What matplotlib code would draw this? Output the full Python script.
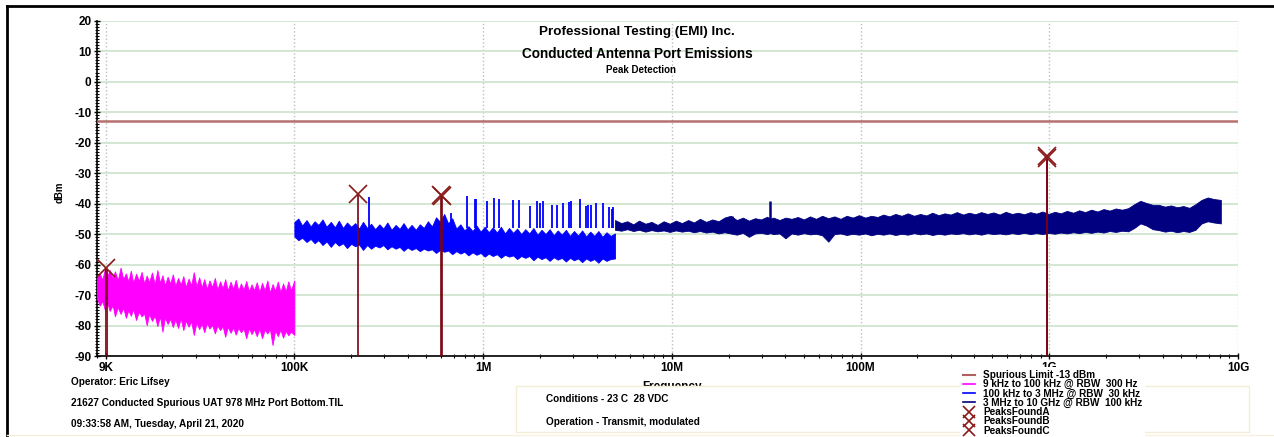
import matplotlib
matplotlib.use('Agg')
import matplotlib.pyplot as plt
from matplotlib.lines import Line2D
from matplotlib.patches import Rectangle
from matplotlib.ticker import FixedLocator, FixedFormatter, LogLocator, MultipleLocator, NullFormatter

plt.rcParams['font.family'] = ['Liberation Sans', 'DejaVu Sans']
plt.rcParams['font.weight'] = 'bold'
plt.rcParams['axes.unicode_minus'] = False

# --- data ----------------------------------------------------------------
limit_db = -13.0

# 9 kHz - 100 kHz sweep (kHz, upper / lower edge of the trace in dBm)
f_mag = [9.0, 9.3, 9.6, 9.9, 10.2, 10.5, 10.9, 11.2, 11.6, 12.0,
         12.4, 12.8, 13.2, 13.6, 14.0, 14.5, 15.0, 15.5, 16.0, 16.5,
         17.0, 17.6, 18.2, 18.8, 19.4, 20.0, 20.6, 21.3, 22.0, 22.7,
         23.4, 24.2, 25.0, 25.8, 26.6, 27.5, 28.4, 29.3, 30.3, 31.3,
         32.3, 33.3, 34.4, 35.5, 36.7, 37.9, 39.1, 40.4, 41.7, 43.0,
         44.4, 45.9, 47.4, 48.9, 50.5, 52.1, 53.8, 55.6, 57.4, 59.3,
         61.2, 63.2, 65.3, 67.4, 69.6, 71.9, 74.2, 76.6, 79.1, 81.7,
         84.4, 87.1, 90.0, 92.9, 95.9, 100.0]
hi_mag = [-64.5, -62.8, -65.0, -61.5, -63.8, -61.8, -64.6, -62.2, -65.2, -61.0,
          -64.8, -62.9, -65.5, -62.0, -66.0, -63.0, -65.4, -62.4, -66.2, -63.6,
          -65.8, -62.6, -66.5, -61.8, -66.0, -63.5, -66.8, -64.0, -66.2, -63.2,
          -67.0, -64.4, -66.6, -63.8, -67.4, -64.6, -66.8, -62.5, -67.2, -64.2,
          -67.5, -64.8, -68.0, -65.2, -67.4, -64.4, -68.2, -65.5, -67.8, -64.8,
          -68.5, -65.6, -68.0, -65.0, -68.6, -66.2, -68.2, -65.4, -68.8, -66.5,
          -68.4, -65.8, -69.0, -66.0, -68.5, -65.2, -69.2, -66.4, -68.6, -65.6,
          -69.0, -66.2, -68.8, -65.5, -68.4, -65.2]
lo_mag = [-71.0, -73.5, -72.0, -74.8, -72.5, -75.2, -73.4, -77.0, -74.0, -76.2,
          -74.2, -77.5, -75.0, -76.8, -74.6, -78.2, -75.4, -77.0, -76.0, -79.9,
          -76.2, -78.5, -76.8, -80.2, -77.0, -82.0, -77.4, -79.5, -77.8, -80.5,
          -78.0, -80.8, -77.6, -81.5, -78.4, -80.4, -78.6, -83.1, -79.0, -81.2,
          -79.4, -82.2, -79.2, -81.0, -79.8, -82.6, -80.0, -81.5, -80.2, -83.7,
          -80.4, -82.4, -80.6, -83.0, -80.8, -82.2, -81.0, -84.2, -80.8, -82.8,
          -81.2, -83.5, -81.0, -84.2, -81.4, -82.6, -81.2, -86.4, -81.6, -83.5,
          -81.4, -84.0, -81.8, -83.2, -82.0, -83.1]

# 100 kHz - 5 MHz sweep (kHz)
f_blue = [100, 105, 110, 116, 122, 128, 134, 141, 148, 156,
          164, 172, 181, 190, 200, 210, 220, 231, 243, 255,
          268, 282, 296, 311, 327, 344, 361, 379, 398, 418,
          440, 462, 485, 510, 536, 563, 592, 622, 653, 686,
          721, 758, 796, 836, 879, 923, 970, 1020, 1071, 1126,
          1183, 1243, 1306, 1372, 1442, 1515, 1592, 1673, 1758, 1847,
          1941, 2040, 2143, 2252, 2367, 2487, 2613, 2746, 2885, 3032,
          3186, 3348, 3518, 3697, 3884, 4082, 4289, 4507, 4736, 5000]
hi_blue = [-46.0, -44.9, -47.2, -45.4, -47.5, -45.8, -47.0, -45.2, -47.6, -46.0,
           -47.8, -45.6, -48.0, -46.2, -47.6, -46.4, -48.2, -46.0, -48.0, -46.6,
           -48.4, -46.8, -48.2, -46.2, -48.6, -47.0, -48.3, -46.4, -48.5, -47.0,
           -48.6, -46.8, -48.0, -45.8, -47.5, -44.5, -46.0, -43.4, -46.5, -44.8,
           -48.2, -46.8, -48.8, -47.4, -49.0, -47.2, -49.2, -47.6, -49.4, -47.8,
           -49.5, -47.6, -49.8, -48.0, -49.6, -48.2, -50.0, -48.4, -49.8, -48.0,
           -50.2, -48.6, -50.0, -48.4, -50.4, -48.8, -50.2, -48.6, -50.6, -49.0,
           -50.5, -48.8, -50.8, -49.2, -50.6, -49.0, -50.9, -49.4, -50.6, -49.8]
lo_blue = [-50.8, -52.0, -51.2, -52.6, -51.6, -53.0, -52.0, -53.6, -52.4, -54.2,
           -52.6, -53.8, -53.0, -54.6, -53.2, -54.0, -53.4, -55.2, -53.6, -54.8,
           -53.8, -54.4, -53.6, -55.0, -54.0, -54.8, -54.2, -55.5, -54.4, -55.2,
           -54.6, -55.6, -54.8, -55.4, -55.0, -56.2, -55.2, -55.8, -55.4, -56.6,
           -55.6, -56.4, -55.8, -57.0, -56.0, -56.8, -56.2, -57.4, -56.4, -57.2,
           -56.6, -57.8, -56.8, -57.4, -57.0, -58.2, -57.2, -57.8, -57.2, -58.6,
           -57.4, -58.2, -57.6, -58.8, -57.6, -58.4, -57.8, -59.0, -57.8, -58.6,
           -58.0, -59.2, -58.0, -58.8, -58.2, -59.4, -58.0, -58.8, -58.2, -58.0]
# narrow spurs above the 100 kHz - 5 MHz trace (kHz, dBm)
spur_blue_f = [248, 674, 822, 906, 917, 1046, 1140, 1215, 1447, 1545,
               1780, 1925, 2000, 2086, 2310, 2470, 2640, 2855, 2914, 3270,
               3500, 3600, 3720, 3950, 4340, 4650, 4810, 4900]
spur_blue_db = [-38.0, -43.0, -37.6, -38.6, -38.4, -39.0, -38.2, -38.6, -38.9, -38.9,
                -40.8, -39.1, -39.8, -39.1, -40.4, -40.4, -39.9, -39.5, -39.3, -38.6,
                -40.8, -40.5, -40.3, -39.9, -39.7, -41.0, -41.8, -41.2]

# 5 MHz - 8.1 GHz sweep (MHz)
f_navy = [5.0, 5.4, 5.8, 6.25, 6.7, 7.25, 7.8, 8.4, 9.05, 9.75,
          10.5, 11.3, 12.2, 13.1, 14.1, 15.2, 16.4, 17.7, 19.0, 20.5,
          22.1, 23.8, 25.6, 27.6, 29.7, 32.0, 33.2, 34.5, 37.2, 40.0,
          43.1, 46.5, 50.1, 54.0, 58.1, 62.6, 67.5, 72.7, 78.3, 84.4,
          91.0, 98.0, 106, 114, 123, 132, 142, 153, 165, 178,
          192, 207, 223, 240, 259, 279, 300, 324, 349, 376,
          405, 436, 470, 506, 546, 588, 634, 683, 736, 793,
          854, 920, 992, 1070, 1150, 1240, 1340, 1440, 1550, 1670,
          1800, 1940, 2090, 2250, 2430, 2620, 2820, 3040, 3270, 3530,
          3800, 4100, 4410, 4760, 5130, 5520, 5950, 6410, 6910, 7450, 8110]
hi_navy = [-45.4, -46.4, -45.8, -46.8, -45.6, -46.6, -46.0, -47.0, -45.8, -46.6,
           -45.6, -46.4, -45.4, -46.2, -45.0, -46.0, -45.2, -45.8, -44.6, -44.0,
           -45.4, -44.6, -45.6, -44.8, -45.2, -44.3, -45.0, -44.6, -45.4, -44.6,
           -45.0, -44.4, -45.2, -44.2, -45.0, -44.0, -44.8, -44.2, -45.0, -44.0,
           -44.6, -43.8, -44.6, -44.0, -44.4, -43.6, -44.2, -43.4, -44.0, -43.2,
           -44.0, -43.4, -43.9, -43.0, -43.8, -43.2, -43.6, -42.8, -43.6, -43.0,
           -43.5, -42.8, -43.4, -42.9, -43.6, -42.7, -43.4, -43.0, -43.5, -42.8,
           -43.3, -42.6, -43.4, -42.7, -43.2, -42.4, -43.0, -42.2, -42.8, -42.0,
           -42.6, -41.8, -42.3, -41.6, -42.0, -41.5, -40.2, -39.1, -39.8, -40.4,
           -40.4, -41.0, -40.6, -41.2, -40.8, -41.4, -40.2, -38.8, -38.0, -38.5, -38.8]
lo_navy = [-48.6, -48.9, -48.4, -49.0, -48.6, -49.2, -48.7, -49.1, -48.8, -49.3,
           -48.8, -49.2, -48.9, -49.4, -49.0, -49.5, -49.2, -49.8, -49.4, -49.8,
           -50.2, -49.6, -50.9, -49.8, -49.6, -50.0, -49.7, -50.0, -49.8, -51.4,
           -49.8, -50.2, -49.7, -50.1, -49.9, -50.4, -52.5, -50.0, -49.8, -50.3,
           -49.9, -50.2, -49.8, -50.4, -49.9, -50.2, -49.8, -50.3, -49.9, -50.2,
           -49.7, -50.1, -49.8, -50.3, -49.9, -50.2, -49.8, -50.0, -49.7, -50.1,
           -49.8, -50.2, -49.7, -50.0, -49.8, -50.1, -49.7, -50.0, -49.6, -50.0,
           -49.7, -50.0, -49.6, -49.9, -49.5, -49.8, -49.4, -49.7, -49.3, -49.6,
           -49.2, -49.5, -49.0, -49.3, -48.9, -49.1, -48.0, -46.5, -47.2, -48.4,
           -48.7, -49.2, -48.9, -49.4, -49.0, -49.3, -48.6, -46.5, -45.8, -46.2, -46.5]
spur_navy_f = [20.8, 33.2]
spur_navy_db = [-44.0, -39.2]

# peaks found (Hz, dBm)
peaks_a_f = [10.05e3]
peaks_a_db = [-61.0]
peaks_b_f = [218e3, 596e3, 603e3]
peaks_b_db = [-37.0, -37.2, -37.6]
peaks_c_f = [978e6, 978e6]
peaks_c_db = [-24.3, -25.2]

x_ticks = [1e4, 1e5, 1e6, 1e7, 1e8, 1e9, 1e10]
x_labels = ['9K', '100K', '1M', '10M', '100M', '1G', '10G']

# --- figure ----------------------------------------------------------------
W, H = 1274, 437
fig = plt.figure(figsize=(W / 100, H / 100), dpi=100)
ax = fig.add_axes([97 / W, 1 - 356 / H, 1141 / W, 335.3 / H])

c_mag, c_blue, c_navy = '#ff00ff', '#0000ff', '#000080'
c_peak = '#8b1a1a'
c_limit = '#b06060'

def khz(v):
    return [a * 1e3 for a in v]

def mhz(v):
    return [a * 1e6 for a in v]

ax.fill_between(khz(f_mag), lo_mag, hi_mag, color=c_mag, lw=0.6, zorder=3)
ax.fill_between(khz(f_blue), lo_blue, hi_blue, color=c_blue, lw=0.6, zorder=3)
ax.vlines(khz(spur_blue_f), -48, spur_blue_db, color=c_blue, lw=1.3, zorder=3)
ax.fill_between(mhz(f_navy), lo_navy, hi_navy, color=c_navy, lw=0.6, zorder=3)
ax.vlines(mhz(spur_navy_f), -46, spur_navy_db, color=c_navy, lw=1.8, zorder=3)

ax.axhline(limit_db, color=c_limit, lw=1.8, alpha=0.9, zorder=4)

# peak markers with their drop lines
stem_w = [2.2, 1.4, 1.4]
for (pf, pdb), sw in zip([(peaks_a_f, peaks_a_db), (peaks_b_f, peaks_b_db),
                          (peaks_c_f, peaks_c_db)], stem_w):
    ax.vlines(pf, -90, pdb, color='#7a0010', lw=sw, alpha=0.85, zorder=5)
    ax.plot(pf, pdb, ls='none', marker='x', ms=13, mew=1.2, color=c_peak, zorder=6)

ax.set_xscale('log')
ax.set_xlim(9e3, 1e10)
ax.set_ylim(-90, 20)

ax.xaxis.set_major_locator(FixedLocator(x_ticks))
ax.xaxis.set_major_formatter(FixedFormatter(x_labels))
ax.xaxis.set_minor_locator(LogLocator(base=10, subs=range(2, 10), numticks=20))
ax.xaxis.set_minor_formatter(NullFormatter())
ax.yaxis.set_major_locator(MultipleLocator(10))
ax.yaxis.set_minor_locator(MultipleLocator(1))

ax.tick_params(axis='both', which='major', direction='inout', length=5, width=1,
               labelsize=8.5, colors='black')
ax.tick_params(axis='both', which='minor', direction='inout', length=3.2, width=0.8)
ax.tick_params(axis='x', which='major', pad=1.5)
ax.tick_params(axis='y', which='major', pad=1.5)
for lab in ax.get_xticklabels() + ax.get_yticklabels():
    lab.set_fontweight('bold')

for s in ['top', 'right']:
    ax.spines[s].set_visible(False)
for s in ['left', 'bottom']:
    ax.spines[s].set_linewidth(1.2)

ax.grid(axis='y', which='major', color='#d3e7d3', lw=1.4, zorder=0)
ax.grid(axis='x', which='major', color='#bdbdbd', ls=':', lw=1.0, zorder=0)
ax.set_axisbelow(True)

# titles
fig.text(0.5, 1 - 32 / H, 'Professional Testing (EMI) Inc.', ha='center', va='center',
         fontsize=9.7, fontweight='bold')
fig.text(0.5, 1 - 54 / H, 'Conducted Antenna Port Emissions', ha='center', va='center',
         fontsize=9.8, fontweight='bold')
fig.text(641 / W, 1 - 70 / H, 'Peak Detection', ha='center', va='center',
         fontsize=7, fontweight='bold')
fig.text(60 / W, 1 - 192 / H, 'dBm', rotation=90, ha='center', va='center',
         fontsize=7, fontweight='bold')
fig.text(672 / W, 1 - 387 / H, 'Frequency', ha='center', va='center',
         fontsize=8.5, fontweight='bold', zorder=2)

# footer info
for yy, txt in [(382, 'Operator: Eric Lifsey'),
                (403, '21627 Conducted Spurious UAT 978 MHz Port Bottom.TIL'),
                (424, '09:33:58 AM, Tuesday, April 21, 2020')]:
    fig.text(71 / W, 1 - yy / H, txt, ha='left', va='center', fontsize=7.2, fontweight='bold')

box = Rectangle((516 / W, 1 - 432 / H), 733 / W, 46 / H, transform=fig.transFigure,
                facecolor='white', edgecolor='#f5ecd5', lw=1, zorder=3)
fig.add_artist(box)
fig.text(546 / W, 1 - 399 / H, 'Conditions - 23 C  28 VDC', ha='left', va='center',
         fontsize=7.2, fontweight='bold', zorder=4)
fig.text(546 / W, 1 - 422 / H, 'Operation - Transmit, modulated', ha='left', va='center',
         fontsize=7.2, fontweight='bold', zorder=4)

# legend
handles = [Line2D([], [], color=c_limit, lw=1.5),
           Line2D([], [], color=c_mag, lw=1.2),
           Line2D([], [], color=c_blue, lw=1.2),
           Line2D([], [], color=c_navy, lw=1.2),
           Line2D([], [], ls='none', marker='x', ms=9, mew=1.2, color=c_peak),
           Line2D([], [], ls='none', marker='x', ms=9, mew=1.2, color=c_peak),
           Line2D([], [], ls='none', marker='x', ms=9, mew=1.2, color=c_peak)]
labels = ['Spurious Limit -13 dBm', '9 kHz to 100 kHz @ RBW  300 Hz',
          '100 kHz to 3 MHz @ RBW  30 kHz', '3 MHz to 10 GHz @ RBW  100 kHz',
          'PeaksFoundA', 'PeaksFoundB', 'PeaksFoundC']
leg = fig.legend(handles, labels, loc='upper left', bbox_to_anchor=(960 / W, 1 - 367 / H),
                 frameon=True, fancybox=False, edgecolor='none', facecolor='white',
                 framealpha=1, labelspacing=-0.08, handlelength=1.2,
                 handletextpad=0.8, borderpad=0.3, borderaxespad=0,
                 prop={'weight': 'bold', 'size': 7.2})
leg.set_zorder(5)

# outer frame
fig.add_artist(Line2D([7 / W, 1], [1 - 6 / H, 1 - 6 / H], transform=fig.transFigure,
                      color='black', lw=2))
fig.add_artist(Line2D([7 / W, 7 / W], [0, 1 - 6 / H], transform=fig.transFigure,
                      color='black', lw=2))
fig.add_artist(Line2D([7 / W, 1], [1 - 435 / H, 1 - 435 / H], transform=fig.transFigure,
                      color='#f8f0dc', lw=1))

fig.savefig('out.png', dpi=100)
